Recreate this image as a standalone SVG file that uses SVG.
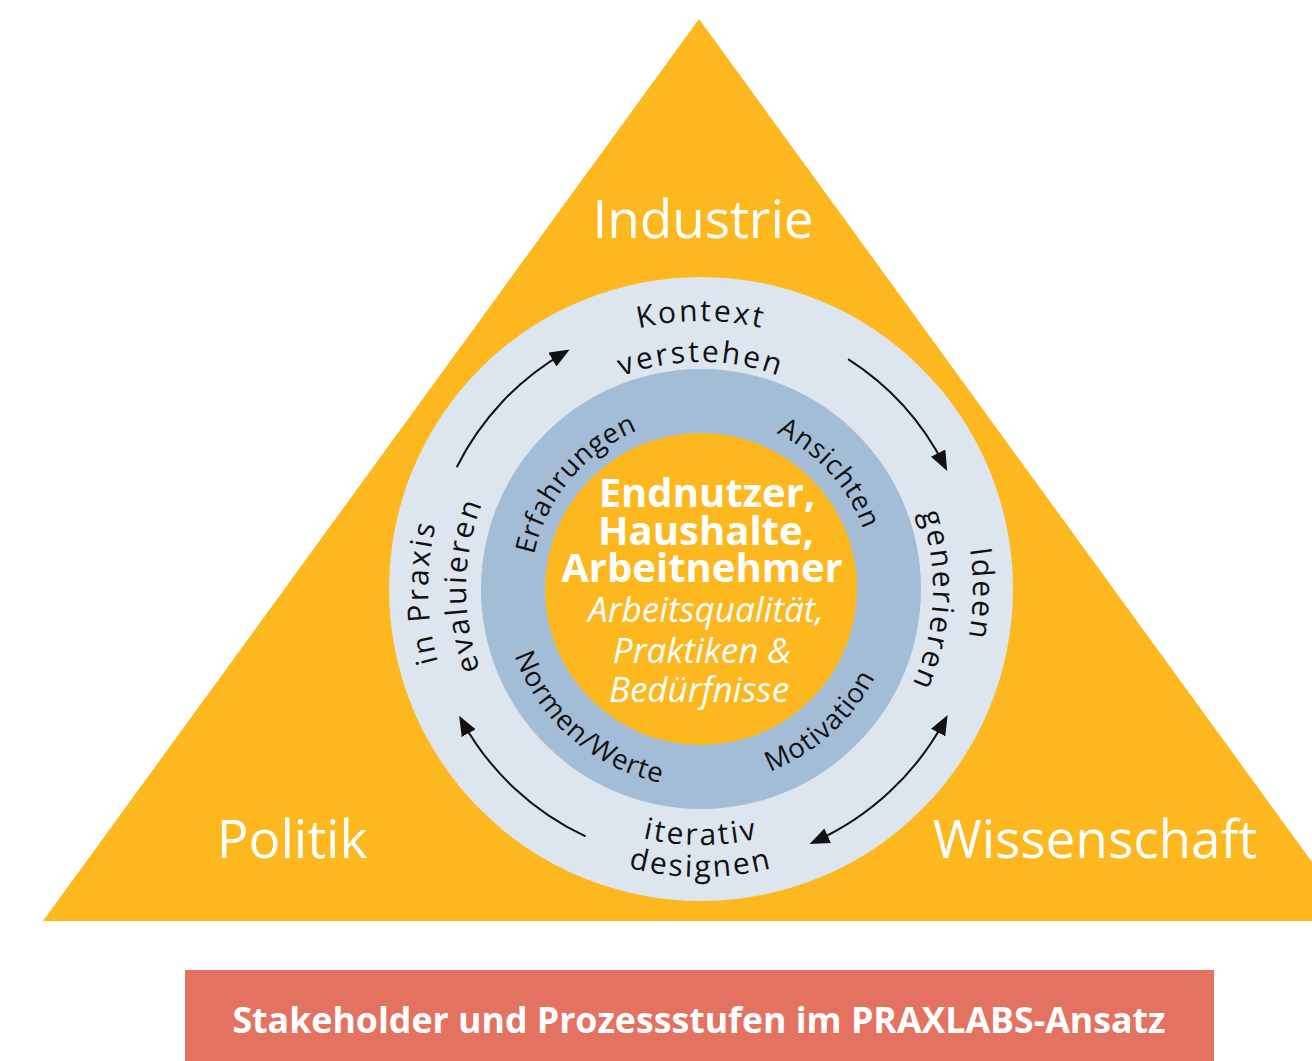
<svg xmlns="http://www.w3.org/2000/svg" width="1312" height="1061" viewBox="0 0 1312 1061">
  <style>
    .stake { font-family: "Open Sans", "Liberation Sans", sans-serif; font-size: 53px; fill: #ffffff; text-anchor: middle; }
    .proc { font-family: "Open Sans", "Liberation Sans", sans-serif; font-size: 30px; letter-spacing: 2.5px; fill: #111111; text-anchor: middle; }
    .ring { font-family: "Open Sans", "Liberation Sans", sans-serif; font-size: 27.5px; letter-spacing: 0.8px; fill: #111111; text-anchor: middle; }
    .core { font-family: "Open Sans", "Liberation Sans", sans-serif; font-size: 40px; font-weight: 700; fill: #ffffff; text-anchor: middle; }
    .coreit { font-family: "Open Sans", "Liberation Sans", sans-serif; font-size: 35px; font-style: italic; fill: #ffffff; text-anchor: middle; }
    .arrow { fill: none; stroke: #111111; stroke-width: 2; }
  </style>
  <defs>
    <marker id="head" viewBox="0 0 20 16" refX="14" refY="8" markerWidth="20" markerHeight="16" markerUnits="userSpaceOnUse" orient="auto-start-reverse">
      <path d="M0,0 L20,8 L0,16 z" fill="#111111"/>
    </marker>
    <!-- label baselines, all concentric around (701,589) -->
    <path id="pTopOuter" d="M433,589 A268,268 0 0 1 969,589"/>
    <path id="pTopInner" d="M474,589 A227,227 0 0 1 928,589"/>
    <path id="pRightOuter" d="M701,317 A272,272 0 0 1 701,861"/>
    <path id="pRightInner" d="M701,357 A232,232 0 0 1 701,821"/>
    <path id="pLeftOuter" d="M701,862 A273,273 0 0 1 701,316"/>
    <path id="pLeftInner" d="M701,824 A235,235 0 0 1 701,354"/>
    <path id="pBottomInner" d="M445,589 A256,256 0 0 0 957,589"/>
    <path id="pBottomOuter" d="M413,589 A288,288 0 0 0 989,589"/>
    <path id="pErf" d="M589.8,721.5 A173,173 0 0 1 812.2,456.5"/>
    <path id="pAns" d="M585.2,460.4 A173,173 0 0 1 816.8,717.6"/>
    <path id="pMot" d="M553.9,721.5 A198,198 0 0 0 848.1,456.5"/>
    <path id="pNorm" d="M551.5,459.1 A198,198 0 0 0 850.5,718.9"/>
  </defs>

  <!-- stakeholder triangle -->
  <g id="triangle">
    <polygon points="699,19 1355,921 43,921" fill="#FDB71F"/>
    <text class="stake" x="703" y="238">Industrie</text>
    <text class="stake" x="292" y="858">Politik</text>
    <text class="stake" x="1095" y="858">Wissenschaft</text>
  </g>

  <!-- process cycle -->
  <g id="process-ring">
    <circle cx="701" cy="589" r="312" fill="#DDE5EF"/>
  </g>

  <g id="values-ring">
    <circle cx="701" cy="589" r="220" fill="#A4BDD7"/>
    <text class="ring"><textPath href="#pErf" startOffset="50%">Erfahrungen</textPath></text>
    <text class="ring"><textPath href="#pAns" startOffset="50%">Ansichten</textPath></text>
    <text class="ring"><textPath href="#pMot" startOffset="50%">Motivation</textPath></text>
    <text class="ring"><textPath href="#pNorm" startOffset="50%">Normen/Werte</textPath></text>
  </g>

  <g id="core">
    <circle cx="701" cy="589" r="156" fill="#FDB71F"/>
    <text class="core" x="707" y="507">Endnutzer,</text>
    <text class="core" x="706" y="545">Haushalte,</text>
    <text class="core" x="702" y="582">Arbeitnehmer</text>
    <text class="coreit" x="706" y="622">Arbeitsqualität,</text>
    <text class="coreit" x="702" y="663">Praktiken &amp;</text>
    <text class="coreit" x="699" y="702">Bedürfnisse</text>
  </g>

  <g id="step-kontext">
    <text class="proc"><textPath href="#pTopOuter" startOffset="50%">Kontext</textPath></text>
    <text class="proc"><textPath href="#pTopInner" startOffset="50%">verstehen</textPath></text>
  </g>
  <g id="step-ideen">
    <text class="proc"><textPath href="#pRightOuter" startOffset="50.6%">Ideen</textPath></text>
    <text class="proc"><textPath href="#pRightInner" startOffset="51.6%">generieren</textPath></text>
  </g>
  <g id="step-design">
    <text class="proc" letter-spacing="1.5"><textPath href="#pBottomInner" startOffset="50%">iterativ</textPath></text>
    <text class="proc" letter-spacing="1.5"><textPath href="#pBottomOuter" startOffset="50%">designen</textPath></text>
  </g>
  <g id="step-evaluieren">
    <text class="proc"><textPath href="#pLeftOuter" startOffset="49.6%">in Praxis</textPath></text>
    <text class="proc"><textPath href="#pLeftInner" startOffset="50.5%">evaluieren</textPath></text>
  </g>

  <!-- connectors between process steps -->
  <g id="connectors">
    <path class="arrow" d="M456.7,467.2 A273,273 0 0 1 564.5,352.6" marker-end="url(#head)"/>
    <path class="arrow" d="M848.1,359.1 A273,273 0 0 1 944.5,465.6" marker-end="url(#head)"/>
    <path class="arrow" d="M944.8,720.3 A277,277 0 0 1 815.0,841.5" marker-start="url(#head)" marker-end="url(#head)"/>
    <path class="arrow" d="M585.6,836.4 A273,273 0 0 1 462.0,720.9" marker-end="url(#head)"/>
  </g>

  <!-- caption -->
  <g id="caption">
    <rect x="185" y="970" width="1029" height="91" fill="#E37360"/>
    <text x="699" y="1033" font-family="'Open Sans', 'Liberation Sans', sans-serif" font-size="35.7" font-weight="700" fill="#ffffff" text-anchor="middle">Stakeholder und Prozessstufen im PRAXLABS-Ansatz</text>
  </g>
</svg>
